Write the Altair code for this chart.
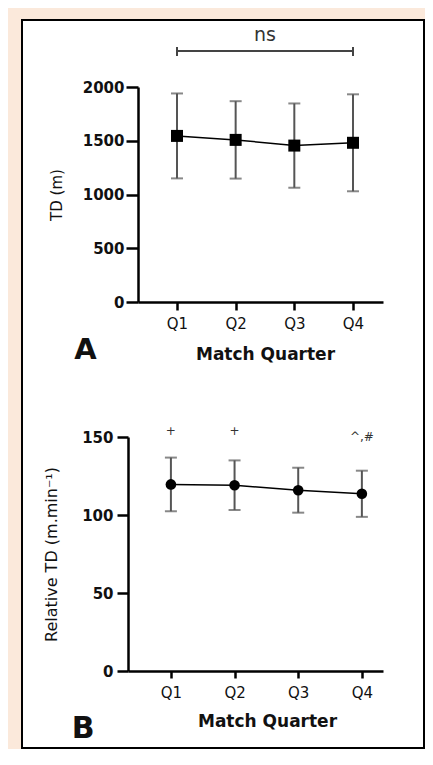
import altair as alt
import pandas as pd

# ---- data ----
quarters = ["Q1", "Q2", "Q3", "Q4"]
td_mean = [1545, 1508, 1455, 1481]
td_sd = [395, 360, 392, 451]
rel_mean = [119.6, 119.1, 115.9, 113.6]
rel_sd = [17.2, 15.9, 14.4, 14.8]
rel_marks = ["+", "+", "", "^,#"]
rel_mark_y = [154, 154, 154, 150]
ns_label = "ns"
bracket_ends = ["Q1", "Q4"]

FONT = "DejaVu Sans"
BG = "#FBE9DB"
INK = "#111111"
ERR = "#555555"

dfA = pd.DataFrame({"q": quarters, "mean": td_mean, "sd": td_sd})
dfA["lo"] = dfA["mean"] - dfA["sd"]
dfA["hi"] = dfA["mean"] + dfA["sd"]
dfB = pd.DataFrame({"q": quarters, "mean": rel_mean, "sd": rel_sd,
                    "mark": rel_marks, "ay": rel_mark_y})
dfB["lo"] = dfB["mean"] - dfB["sd"]
dfB["hi"] = dfB["mean"] + dfB["sd"]


def x_axis(offset, tx, ty, pad, tick):
    return alt.Axis(orient="bottom", offset=offset, title="Match Quarter", zindex=2,
                    titleFont=FONT, titleFontSize=17, titleFontWeight="bold",
                    titleColor=INK, titleX=tx, titleY=ty, titleBaseline="alphabetic",
                    labelFont=FONT, labelFontSize=15, labelColor=INK, labelAngle=0,
                    labelBaseline="alphabetic", labelPadding=pad,
                    tickSize=tick, tickWidth=2.5, tickColor="black",
                    domainColor="black", domainWidth=2.5, grid=False)


def y_axis(offset, title, values, tx, ty, tick, pad, tsize):
    return alt.Axis(orient="left", offset=offset, title=title, values=values, zindex=2,
                    format="d",
                    titleFont=FONT, titleFontSize=tsize, titleFontWeight="normal",
                    titleColor=INK, titleX=tx, titleY=ty, titleBaseline="alphabetic",
                    labelFont=FONT, labelFontSize=15, labelFontWeight="bold",
                    labelColor=INK, labelPadding=pad,
                    tickSize=tick, tickWidth=2.5, tickColor="black",
                    domainColor="black", domainWidth=2.5, grid=False)


# ---- panel A encodings ----
scA_x = alt.Scale(type="point", domain=quarters, range=[130, 375], padding=0.588, align=0.565)
scA_y = alt.Scale(domain=[0, 2000], range=[294, 79], nice=False)
axA_x = x_axis(-447, 257, 57, 18, 8)
axA_y = y_axis(-130, "TD (m)", [0, 500, 1000, 1500, 2000], -77, 186.5, 12, 2, 15)


def xA(f="q"):
    return alt.X(f, type="nominal", scale=scA_x, axis=axA_x)


def yA(f):
    return alt.Y(f, type="quantitative", scale=scA_y, axis=axA_y)


baseA = alt.Chart(dfA)
errA = baseA.mark_rule(color=ERR, strokeWidth=2).encode(x=xA(), y=yA("lo"), y2="hi")
capHiA = baseA.mark_tick(color=ERR, size=12, thickness=2).encode(x=xA(), y=yA("hi"))
capLoA = baseA.mark_tick(color=ERR, size=12, thickness=2).encode(x=xA(), y=yA("lo"))
lineA = baseA.mark_line(color="black", strokeWidth=1.5).encode(x=xA(), y=yA("mean"))
ptsA = baseA.mark_square(color="black", size=144, opacity=1).encode(x=xA(), y=yA("mean"))

brk = pd.DataFrame({"q": [bracket_ends[0]], "q2": [bracket_ends[1]], "lab": [ns_label]})
brkEnds = pd.DataFrame({"q": bracket_ends})
brkLine = alt.Chart(brk).mark_rule(color="#444", strokeWidth=2).encode(
    x=xA(), x2="q2", y=alt.value(43))
brkTicks = alt.Chart(brkEnds).mark_rule(color="#444", strokeWidth=2).encode(
    x=xA(), y=alt.value(39), y2=alt.value(48))
nsText = alt.Chart(brk).mark_text(font=FONT, fontSize=19, color="#333",
                                  baseline="alphabetic", align="center").encode(
    text="lab:N", x=alt.value(257), y=alt.value(33))

layerA = alt.layer(errA, capHiA, capLoA, lineA, ptsA, brkLine, brkTicks, nsText)

# ---- panel B encodings ----
scB_x = alt.Scale(type="point", domain=quarters, range=[120, 375], padding=0.503, align=0.67)
scB_y = alt.Scale(domain=[0, 150], range=[663, 429], nice=False)
axB_x = x_axis(-78, 259, 55.7, 19, 7)
axB_y = y_axis(-120, "Relative TD (m.min\u207b\u00b9)", [0, 50, 100, 150], -71.3, 546, 11, 4, 16)


def xB(f="q"):
    return alt.X(f, type="nominal", scale=scB_x, axis=axB_x)


def yB(f):
    return alt.Y(f, type="quantitative", scale=scB_y, axis=axB_y)


baseB = alt.Chart(dfB)
errB = baseB.mark_rule(color=ERR, strokeWidth=2).encode(x=xB(), y=yB("lo"), y2="hi")
capHiB = baseB.mark_tick(color=ERR, size=12, thickness=2).encode(x=xB(), y=yB("hi"))
capLoB = baseB.mark_tick(color=ERR, size=12, thickness=2).encode(x=xB(), y=yB("lo"))
lineB = baseB.mark_line(color="black", strokeWidth=1.5).encode(x=xB(), y=yB("mean"))
ptsB = baseB.mark_circle(color="black", size=113, opacity=1).encode(x=xB(), y=yB("mean"))
annB = baseB.mark_text(font=FONT, fontSize=12, color="#333", baseline="middle").encode(
    x=xB(), y=yB("ay"), text="mark:N")

layerB = alt.layer(errB, capHiB, capLoB, lineB, ptsB, annB)

# ---- frame and panel letters ----
one = pd.DataFrame({"A": ["A"], "B": ["B"]})
frame = alt.Chart(one).mark_rect(fill="white", stroke="black", strokeWidth=2).encode(
    x=alt.value(14), x2=alt.value(416), y=alt.value(12), y2=alt.value(740))
letA = alt.Chart(one).mark_text(font=FONT, fontSize=29, fontWeight="bold", color=INK,
                                baseline="alphabetic", align="center").encode(
    text="A:N", x=alt.value(77.5), y=alt.value(351))
letB = alt.Chart(one).mark_text(font=FONT, fontSize=30, fontWeight="bold", color=INK,
                                baseline="alphabetic", align="center").encode(
    text="B:N", x=alt.value(75.3), y=alt.value(730))

chart = alt.layer(frame, layerA, layerB, letA, letB).resolve_scale(
    x="independent", y="independent"
).properties(
    width=417, height=741, padding=0,
    autosize=alt.AutoSizeParams(type="none"),
    background=BG,
).configure_view(stroke=None)

chart.save("out.html", embed_options={"renderer": "svg", "actions": False})
